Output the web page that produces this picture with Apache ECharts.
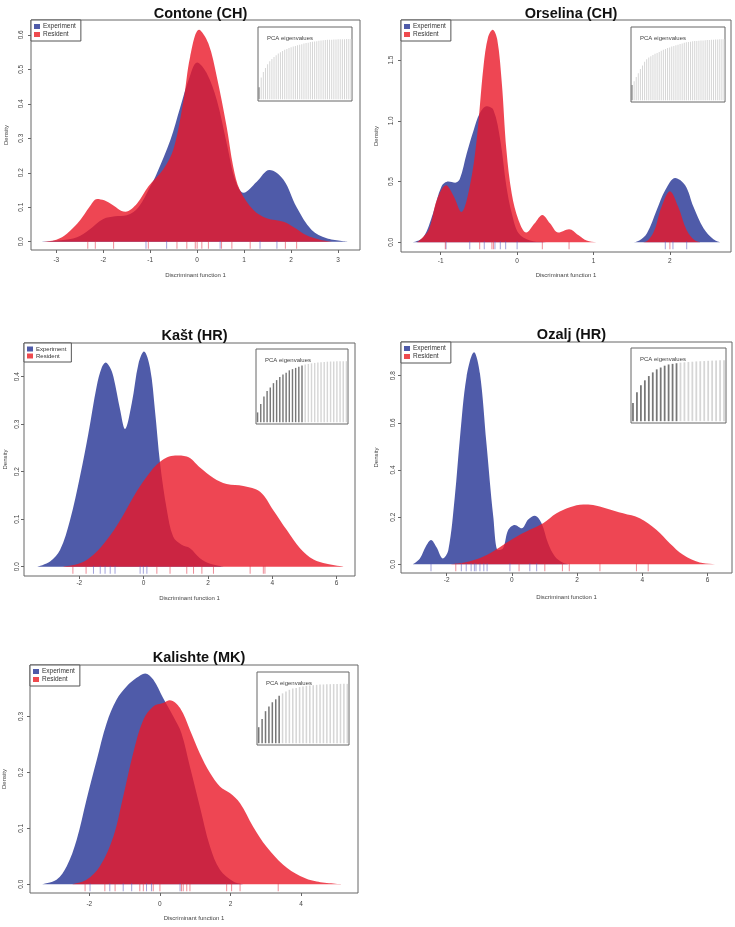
<!DOCTYPE html>
<html>
<head>
<meta charset="utf-8">
<script src="https://cdn.jsdelivr.net/npm/echarts@6/dist/echarts.min.js"></script>
<style>
  html, body { margin: 0; padding: 0; background: #fff; }
  #main { width: 735px; height: 927px; }
</style>
</head>
<body>
<div id="main"></div>
<script>
// density curves, [x, density]
const contoneExp = [[-3.3,0],[-2.9,0.004],[-2.56,0.013],[-2.3,0.035],[-2.0,0.066],[-1.75,0.074],[-1.5,0.077],[-1.25,0.1],[-1.0,0.16],[-0.86,0.198],[-0.57,0.295],[-0.36,0.39],[-0.18,0.47],[0,0.52],[0.2,0.49],[0.42,0.41],[0.63,0.285],[0.81,0.18],[0.99,0.142],[1.27,0.174],[1.54,0.208],[1.84,0.18],[2.12,0.10],[2.44,0.034],[2.76,0.01],[3.22,0]];
const contoneRes = [[-3.3,0],[-3.0,0.006],[-2.77,0.024],[-2.49,0.063],[-2.3,0.1],[-2.13,0.124],[-1.98,0.12],[-1.85,0.111],[-1.53,0.087],[-1.28,0.111],[-1.04,0.16],[-0.72,0.21],[-0.5,0.27],[-0.29,0.41],[-0.15,0.536],[0.04,0.615],[0.24,0.575],[0.42,0.478],[0.63,0.333],[0.77,0.217],[0.91,0.15],[1.2,0.092],[1.48,0.068],[1.84,0.058],[2.05,0.043],[2.33,0.019],[2.62,0.006],[2.9,0]];
const orselinaExp = [[-1.37,0],[-1.23,0.04],[-1.1,0.24],[-0.99,0.46],[-0.9,0.50],[-0.81,0.49],[-0.75,0.52],[-0.66,0.73],[-0.57,0.92],[-0.49,1.06],[-0.4,1.12],[-0.31,1.09],[-0.22,0.84],[-0.14,0.46],[-0.07,0.24],[0.02,0.074],[0.17,0.014],[0.34,0.002],[0.5,0],[1.5,0],[1.6,0.015],[1.7,0.074],[1.83,0.27],[1.94,0.43],[2.07,0.53],[2.2,0.47],[2.31,0.29],[2.44,0.115],[2.57,0.025],[2.66,0]];
const orselinaRes = [[-1.31,0],[-1.16,0.10],[-1.05,0.35],[-0.93,0.47],[-0.83,0.38],[-0.73,0.25],[-0.62,0.46],[-0.53,0.84],[-0.44,1.45],[-0.38,1.69],[-0.32,1.75],[-0.26,1.67],[-0.2,1.31],[-0.14,0.76],[-0.07,0.40],[0.02,0.18],[0.12,0.08],[0.23,0.156],[0.33,0.225],[0.43,0.156],[0.54,0.08],[0.68,0.107],[0.8,0.06],[0.91,0.014],[1.04,0],[1.65,0],[1.78,0.074],[1.89,0.29],[2.0,0.42],[2.11,0.29],[2.22,0.10],[2.33,0.014],[2.4,0]];
const kastExp = [[-3.3,0],[-2.91,0.011],[-2.6,0.035],[-2.29,0.098],[-1.98,0.19],[-1.72,0.28],[-1.46,0.38],[-1.3,0.42],[-1.18,0.43],[-1.05,0.42],[-0.94,0.40],[-0.73,0.33],[-0.58,0.29],[-0.37,0.344],[-0.16,0.428],[0.01,0.453],[0.2,0.418],[0.35,0.33],[0.51,0.218],[0.72,0.12],[0.92,0.063],[1.18,0.046],[1.44,0.039],[1.75,0.018],[2.07,0.006],[2.48,0]];
const kastRes = [[-2.5,0],[-1.98,0.007],[-1.56,0.025],[-1.15,0.056],[-0.73,0.098],[-0.32,0.147],[0.1,0.19],[0.51,0.221],[0.98,0.234],[1.34,0.232],[1.75,0.209],[2.17,0.187],[2.58,0.174],[3.1,0.17],[3.62,0.158],[4.03,0.119],[4.45,0.077],[4.86,0.039],[5.28,0.015],[5.69,0.006],[6.21,0]];
const ozaljExp = [[-3.04,0],[-2.82,0.025],[-2.64,0.075],[-2.48,0.103],[-2.31,0.072],[-2.12,0.025],[-1.95,0.06],[-1.75,0.287],[-1.59,0.54],[-1.39,0.796],[-1.16,0.90],[-0.98,0.81],[-0.78,0.513],[-0.57,0.202],[-0.42,0.06],[-0.27,0.068],[-0.11,0.146],[0.09,0.167],[0.3,0.153],[0.5,0.19],[0.7,0.206],[0.91,0.174],[1.11,0.089],[1.32,0.033],[1.57,0.007],[1.78,0]];
const ozaljRes = [[-2.0,0],[-1.49,0.007],[-1.08,0.021],[-0.67,0.047],[-0.27,0.082],[0.14,0.117],[0.55,0.146],[0.96,0.174],[1.37,0.216],[1.78,0.242],[2.19,0.254],[2.49,0.252],[2.9,0.237],[3.41,0.216],[3.92,0.195],[4.43,0.146],[4.84,0.089],[5.25,0.04],[5.76,0.008],[6.37,0]];
const kalExp = [[-3.35,0],[-2.93,0.008],[-2.64,0.032],[-2.36,0.079],[-2.08,0.151],[-1.79,0.222],[-1.51,0.288],[-1.23,0.33],[-0.94,0.354],[-0.66,0.369],[-0.42,0.377],[-0.19,0.366],[0.09,0.333],[0.38,0.30],[0.61,0.27],[0.85,0.21],[1.13,0.139],[1.42,0.067],[1.7,0.026],[2.08,0.005],[2.36,0]];
const kalRes = [[-2.5,0],[-2.08,0.008],[-1.7,0.032],[-1.32,0.085],[-1.04,0.157],[-0.76,0.234],[-0.47,0.294],[-0.19,0.318],[0.09,0.324],[0.28,0.329],[0.57,0.315],[0.85,0.276],[1.13,0.234],[1.42,0.199],[1.7,0.175],[1.98,0.163],[2.27,0.145],[2.64,0.103],[3.02,0.067],[3.49,0.035],[3.97,0.015],[4.44,0.005],[5.19,0]];

// rug marks (individual scores)
const contoneRugExp = [-1.09,-0.65,0.49,1.34,1.70];
const contoneRugRes = [-2.33,-2.17,-1.78,-1.04,-0.43,-0.22,-0.04,0,0.1,0.24,0.52,0.74,1.13,1.88,2.12];
const orselinaRugExp = [-0.93,-0.62,-0.43,-0.29,-0.22,-0.15,0,1.94,2.04,2.22];
const orselinaRugRes = [-0.94,-0.49,-0.33,-0.31,0.33,0.68,2.0];
const kastRugExp = [-1.56,-1.35,-1.2,-1.04,-0.89,-0.11,-0.01,0.1];
const kastRugRes = [-2.2,-1.79,0.41,0.82,1.34,1.55,1.81,2.17,3.31,3.72,3.77];
const ozaljRugExp = [-2.48,-1.55,-1.4,-1.25,-1.15,-1.1,-0.98,-0.86,-0.76,-0.06,0.55,0.76];
const ozaljRugRes = [-1.72,0.22,1.01,1.55,1.76,2.7,3.82,4.18];
const kalRugExp = [-1.98,-1.42,-1.04,-0.8,-0.38,-0.24,0.57];
const kalRugRes = [-2.12,-1.56,-1.27,-0.57,-0.47,-0.19,0,0.61,0.66,0.76,0.85,1.89,2.03,2.27,3.35];

// tick labels
const contoneXTicks = [-3,-2,-1,0,1,2,3];
const contoneYTicks = [0,0.1,0.2,0.3,0.4,0.5,0.6];
const orselinaXTicks = [-1,0,1,2];
const orselinaYTicks = [0,0.5,1,1.5];
const kastXTicks = [-2,0,2,4,6];
const kastYTicks = [0,0.1,0.2,0.3,0.4];
const ozaljXTicks = [-2,0,2,4,6];
const ozaljYTicks = [0,0.2,0.4,0.6,0.8];
const kalXTicks = [-2,0,2,4];
const kalYTicks = [0,0.1,0.2,0.3];

// PCA eigenvalue insets (relative heights) and number of retained PCs
const contonePca = [0.20,0.36,0.45,0.52,0.58,0.63,0.67,0.70,0.73,0.76,0.78,0.80,0.82,0.835,0.85,0.865,0.875,0.885,0.895,0.905,0.915,0.925,0.935,0.94,0.95,0.955,0.96,0.965,0.97,0.975,0.98,0.983,0.986,0.989,0.99,0.992,0.994,0.995,0.996,0.997,0.998,0.999,1.0,1.0];
const orselinaPca = [0.25,0.31,0.38,0.44,0.51,0.57,0.63,0.67,0.70,0.72,0.74,0.76,0.775,0.79,0.81,0.825,0.84,0.855,0.865,0.88,0.89,0.90,0.91,0.92,0.93,0.94,0.95,0.955,0.96,0.965,0.97,0.972,0.975,0.977,0.98,0.982,0.985,0.987,0.99,0.992,0.994,0.996,0.998,1.0,1.0];
const kastPca = [0.16,0.30,0.42,0.51,0.57,0.64,0.69,0.74,0.78,0.81,0.85,0.87,0.89,0.91,0.93,0.945,0.955,0.965,0.972,0.978,0.984,0.988,0.992,0.995,0.997,0.998,0.999,1.0,1.0];
const ozaljPca = [0.30,0.475,0.59,0.67,0.74,0.80,0.85,0.88,0.91,0.93,0.94,0.95,0.96,0.965,0.97,0.975,0.98,0.983,0.986,0.99,0.993,0.996,1.0,1.0];
const kalPca = [0.27,0.41,0.54,0.62,0.69,0.74,0.80,0.84,0.87,0.90,0.92,0.93,0.945,0.955,0.966,0.972,0.978,0.983,0.988,0.99,0.993,0.995,0.997,0.998,1.0,1.0,1.0];

const panels = [
  { title: "Contone (CH)", exp: contoneExp, res: contoneRes, rugExp: contoneRugExp, rugRes: contoneRugRes, xTicks: contoneXTicks, yTicks: contoneYTicks, pca: contonePca, kept: 1 },
  { title: "Orselina (CH)", exp: orselinaExp, res: orselinaRes, rugExp: orselinaRugExp, rugRes: orselinaRugRes, xTicks: orselinaXTicks, yTicks: orselinaYTicks, pca: orselinaPca, kept: 1 },
  { title: "Kašt (HR)", exp: kastExp, res: kastRes, rugExp: kastRugExp, rugRes: kastRugRes, xTicks: kastXTicks, yTicks: kastYTicks, pca: kastPca, kept: 15 },
  { title: "Ozalj (HR)", exp: ozaljExp, res: ozaljRes, rugExp: ozaljRugExp, rugRes: ozaljRugRes, xTicks: ozaljXTicks, yTicks: ozaljYTicks, pca: ozaljPca, kept: 12 },
  { title: "Kalishte (MK)", exp: kalExp, res: kalRes, rugExp: kalRugExp, rugRes: kalRugRes, xTicks: kalXTicks, yTicks: kalYTicks, pca: kalPca, kept: 7 }
];

// layout: grid box [left, top, width, height], axis ranges, inset box
const layouts = [
  { box: [31, 20, 329, 230], xr: [-3.54, 3.47], yr: [-0.024, 0.643], inset: [258, 27, 94, 74], titleTop: 1, xm: 7, xg: 22, ym: 6, yg: 22, lf: 6.5 },
  { box: [401, 20, 330, 232], xr: [-1.52, 2.80], yr: [-0.08, 1.83], inset: [631, 27, 94, 75], titleTop: 1, xm: 6, xg: 20, ym: 6, yg: 22, lf: 6.5 },
  { box: [24, 343, 331, 233], xr: [-3.72, 6.57], yr: [-0.0196, 0.471], inset: [256, 349, 92, 75], titleTop: 323, xm: 4, xg: 19, ym: 3, yg: 16, lf: 6 },
  { box: [401, 342, 331, 231], xr: [-3.40, 6.75], yr: [-0.037, 0.943], inset: [631, 348, 95, 75], titleTop: 322, xm: 4, xg: 21, ym: 4, yg: 22, lf: 6.5 },
  { box: [30, 665, 328, 228], xr: [-3.68, 5.61], yr: [-0.0156, 0.392], inset: [257, 672, 92, 73], titleTop: 645, xm: 8, xg: 22, ym: 5, yg: 23, lf: 6.5 }
];

const FONT = "Liberation Sans, Arial, sans-serif";
const BLUE = "#4F5BA9";
const RED_SOLID = "#EE4A4E";
const RED_FILL = "rgba(234,24,40,0.8)";

const chart = echarts.init(document.getElementById("main"), null, { renderer: "canvas" });

const grid = [], xAxis = [], yAxis = [], series = [], title = [], legend = [];

panels.forEach((p, i) => {
  const L = layouts[i];
  const [gl, gt, gw, gh] = L.box;
  const [il, it, iw, ih] = L.inset;
  const g = grid.length;

  grid.push({ left: gl, top: gt, width: gw, height: gh, show: true, borderColor: "#666", borderWidth: 1, backgroundColor: "transparent", containLabel: false });
  xAxis.push({
    type: "value", gridIndex: g, min: L.xr[0], max: L.xr[1], position: "bottom",
    name: "Discriminant function 1", nameLocation: "middle", nameGap: L.xg,
    nameTextStyle: { fontFamily: FONT, fontSize: 6, color: "#444" },
    axisLine: { show: false, onZero: false },
    axisTick: { show: true, length: 3, lineStyle: { color: "#666" }, customValues: p.xTicks },
    axisLabel: { fontFamily: FONT, fontSize: 6.5, color: "#444", margin: L.xm, customValues: p.xTicks },
    splitLine: { show: false }
  });
  yAxis.push({
    type: "value", gridIndex: g, min: L.yr[0], max: L.yr[1], position: "left",
    name: "Density", nameLocation: "middle", nameGap: L.yg,
    nameTextStyle: { fontFamily: FONT, fontSize: 6, color: "#444" },
    axisLine: { show: false, onZero: false },
    axisTick: { show: true, length: 3, lineStyle: { color: "#666" }, customValues: p.yTicks },
    axisLabel: { fontFamily: FONT, fontSize: 6.5, color: "#444", margin: L.ym, rotate: 90, customValues: p.yTicks, formatter: v => v.toFixed(1) },
    splitLine: { show: false }
  });

  series.push({
    name: "Experiment", type: "line", xAxisIndex: g, yAxisIndex: g, data: p.exp,
    smooth: 0.35, showSymbol: false, color: BLUE,
    lineStyle: { width: 0 }, areaStyle: { color: BLUE, opacity: 1 }, z: 2, silent: true
  });
  series.push({
    name: "Resident", type: "line", xAxisIndex: g, yAxisIndex: g, data: p.res,
    smooth: 0.35, showSymbol: false, color: RED_SOLID,
    lineStyle: { width: 0 }, areaStyle: { color: RED_FILL, opacity: 1 }, z: 2, silent: true
  });
  series.push({
    name: "rugExp", type: "scatter", xAxisIndex: g, yAxisIndex: g,
    data: p.rugExp.map(v => [v, 0]), symbol: "rect", symbolSize: [1, 8], symbolOffset: [0, 3],
    itemStyle: { color: "rgba(90,90,190,0.7)" }, z: 3, silent: true
  });
  series.push({
    name: "rugRes", type: "scatter", xAxisIndex: g, yAxisIndex: g,
    data: p.rugRes.map(v => [v, 0]), symbol: "rect", symbolSize: [1, 8], symbolOffset: [0, 3],
    itemStyle: { color: "rgba(225,50,70,0.7)" }, z: 3, silent: true
  });

  title.push({
    text: p.title, left: gl + gw / 2, top: L.titleTop, textAlign: "center",
    textStyle: { fontFamily: FONT, fontSize: 14.5, fontWeight: "bold", color: "#111" }
  });

  legend.push({
    data: ["Experiment", "Resident"], orient: "vertical", left: gl, top: gt,
    icon: "rect", itemWidth: 6, itemHeight: 5, itemGap: 1,
    padding: [3, 5, 3, 3], borderColor: "#555", borderWidth: 1, backgroundColor: "#fff",
    textStyle: { fontFamily: FONT, fontSize: L.lf, color: "#333", padding: [0, 0, 0, -2] },
    selectedMode: false, z: 6
  });

  // inset: PCA eigenvalues
  const gi = grid.length;
  grid.push({ left: il, top: it, width: iw, height: ih, show: true, borderColor: "#666", borderWidth: 1, backgroundColor: "#fff", z: 4 });
  xAxis.push({ type: "category", gridIndex: gi, data: p.pca.map((_, k) => k + 1), show: false, boundaryGap: true });
  yAxis.push({ type: "value", gridIndex: gi, min: -0.03, max: 1.2, show: false });
  series.push({
    name: "pca" + i, type: "bar", xAxisIndex: gi, yAxisIndex: gi, barWidth: "45%", silent: true, z: 5,
    data: p.pca.map((v, k) => ({ value: v, itemStyle: { color: k < p.kept ? "#777" : "#d6d6d6" } }))
  });
  title.push({
    text: "PCA eigenvalues", left: il + 4, top: it + 3,
    textStyle: { fontFamily: FONT, fontSize: 6, fontWeight: "normal", color: "#444" }
  });
});

chart.setOption({
  backgroundColor: "#fff",
  animation: false,
  title, legend, grid, xAxis, yAxis, series
});
</script>
</body>
</html>
